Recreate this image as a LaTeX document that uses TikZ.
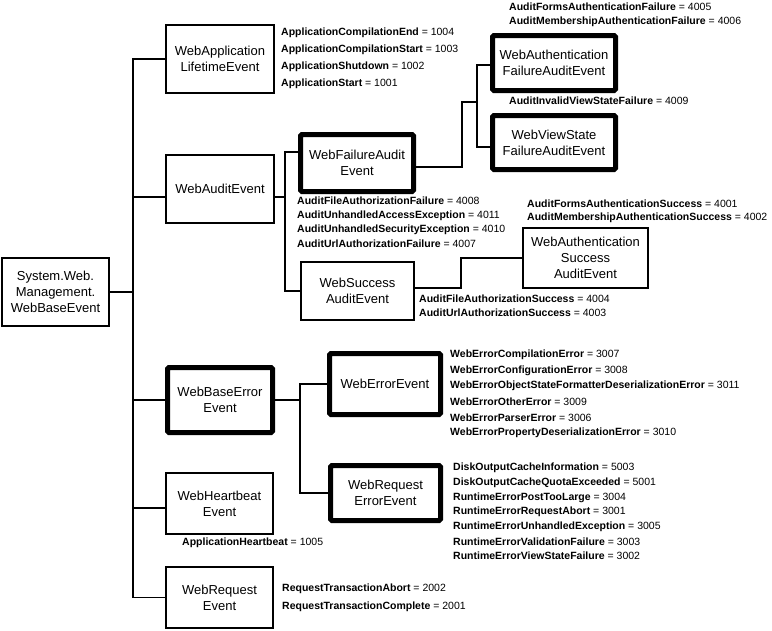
\documentclass[tikz,border=0pt]{standalone}
\usepackage{fontspec}
\setmainfont{Liberation Sans}
\usepackage{tikz}

\newcommand{\evcode}[2]{\textbf{#1} = #2}

\begin{document}
\begin{tikzpicture}[x=1pt,y=-1pt,
  box/.style={draw,line width=1.3pt,inner sep=0pt,align=center,font=\fontsize{13}{16}\selectfont},
  thickbox/.style={box,line width=5pt,rounded corners=1.5pt},
  wire/.style={line width=1.5pt},
  code/.style={anchor=west,inner sep=0pt,font=\fontsize{10.5}{12}\selectfont}]

  % Marco de la figura
  \useasboundingbox (0,0) rectangle (772,630);

  % Raíz y eventos de primer nivel
  \node[box,minimum width=107pt,minimum height=68pt] (root) at (55.5,292) {System.Web.\\Management.\\WebBaseEvent};
  \node[box,minimum width=108pt,minimum height=68pt] (lifetime) at (220,59) {WebApplication\\LifetimeEvent};
  \node[box,minimum width=108pt,minimum height=68pt] (audit) at (220,189) {WebAuditEvent};
  \node[thickbox,minimum width=105pt,minimum height=65pt] (baseerror) at (220,400) {WebBaseError\\Event};
  \node[box,minimum width=107pt,minimum height=61pt] (heartbeat) at (219.5,503.5) {WebHeartbeat\\Event};
  \node[box,minimum width=107pt,minimum height=61pt] (request) at (219.5,597.5) {WebRequest\\Event};

  % Eventos de auditoría
  \node[thickbox,minimum width=113pt,minimum height=57pt] (failure) at (357,163) {WebFailureAudit\\Event};
  \node[box,minimum width=113pt,minimum height=58pt] (success) at (357.5,291) {WebSuccess\\AuditEvent};
  \node[thickbox,minimum width=123pt,minimum height=55pt] (authfail) at (554,63) {WebAuthentication\\FailureAuditEvent};
  \node[thickbox,minimum width=123pt,minimum height=54pt] (viewstate) at (554,142.5) {WebViewState\\FailureAuditEvent};
  \node[box,minimum width=125pt,minimum height=60pt] (authsucc) at (585.5,258) {WebAuthentication\\Success\\AuditEvent};

  % Eventos de error
  \node[thickbox,minimum width=111pt,minimum height=61pt] (errorev) at (385,384) {WebErrorEvent};
  \node[thickbox,minimum width=110pt,minimum height=55pt] (reqerror) at (385.5,493) {WebRequest\\ErrorEvent};

  % Puntos de unión de las líneas
  \coordinate (trunk) at (133,0);
  \coordinate (auditbus) at (285,0);
  \coordinate (failbus) at (462,102);
  \coordinate (failjoin) at (477,102);
  \coordinate (succbus) at (461,258);
  \coordinate (errbus) at (300,400);

  % Tronco principal
  \draw[wire] (lifetime.west) -- (lifetime.west -| trunk) |- (request.west);
  \draw[wire] (root.east) -- (root.east -| trunk);
  \draw[wire] ([yshift=-8pt]audit.west) -- ([yshift=-8pt]audit.west -| trunk);
  \draw[wire] (baseerror.west) -- (baseerror.west -| trunk);
  \draw[wire] ([yshift=-4.5pt]heartbeat.west) -- ([yshift=-4.5pt]heartbeat.west -| trunk);

  % Rama de auditoría
  \draw[wire] ([yshift=-8pt]audit.east) -- ([yshift=-8pt]audit.east -| auditbus);
  \draw[wire] ([yshift=11pt]failure.west) -- ([yshift=11pt]failure.west -| auditbus) |- (success.west);
  \draw[wire] ([yshift=-4pt]failure.east) -| (failbus) -- (failjoin);
  \draw[wire] ([yshift=-2pt]authfail.west) -| (failjoin) |- ([yshift=-4.5pt]viewstate.west);
  \draw[wire] ([yshift=3pt]success.east) -| (succbus) -- (authsucc.west);

  % Rama de errores
  \draw[wire] (baseerror.east) -- (errbus);
  \draw[wire] (errorev.west) -| (errbus) |- (reqerror.west);

  % Códigos de evento
  \foreach \nm/\val [count=\i] in {ApplicationCompilationEnd/1004,ApplicationCompilationStart/1003,ApplicationShutdown/1002,ApplicationStart/1001}
    \node[code] (lifecode\i) at (281,{32.5+17*(\i-1)}) {\evcode{\nm}{\val}};
  \foreach \nm/\val [count=\i] in {AuditFormsAuthenticationFailure/4005,AuditMembershipAuthenticationFailure/4006}
    \node[code] (authfailcode\i) at (509,{7+15*(\i-1)}) {\evcode{\nm}{\val}};
  \node[code] (viewstatecode) at (509,101) {\evcode{AuditInvalidViewStateFailure}{4009}};
  \foreach \nm/\val [count=\i] in {AuditFileAuthorizationFailure/4008,AuditUnhandledAccessException/4011,AuditUnhandledSecurityException/4010,AuditUrlAuthorizationFailure/4007}
    \node[code] (failcode\i) at (297,{201+14.3*(\i-1)}) {\evcode{\nm}{\val}};
  \foreach \nm/\val [count=\i] in {AuditFormsAuthenticationSuccess/4001,AuditMembershipAuthenticationSuccess/4002}
    \node[code] (authsucccode\i) at (527,{204+14*(\i-1)}) {\evcode{\nm}{\val}};
  \foreach \nm/\val [count=\i] in {AuditFileAuthorizationSuccess/4004,AuditUrlAuthorizationSuccess/4003}
    \node[code] (succcode\i) at (419,{298.5+14*(\i-1)}) {\evcode{\nm}{\val}};
  \foreach \nm/\val [count=\i] in {WebErrorCompilationError/3007,WebErrorConfigurationError/3008,WebErrorObjectStateFormatterDeserializationError/3011,WebErrorOtherError/3009,WebErrorParserError/3006,WebErrorPropertyDeserializationError/3010}
    \node[code] (errcode\i) at (450,{355+15.6*(\i-1)}) {\evcode{\nm}{\val}};
  \foreach \nm/\val [count=\i] in {DiskOutputCacheInformation/5003,DiskOutputCacheQuotaExceeded/5001,RuntimeErrorPostTooLarge/3004,RuntimeErrorRequestAbort/3001,RuntimeErrorUnhandledException/3005,RuntimeErrorValidationFailure/3003,RuntimeErrorViewStateFailure/3002}
    \node[code] (reqerrcode\i) at (453,{468+14.7*(\i-1)}) {\evcode{\nm}{\val}};
  \node[code] (heartcode) at (182,543) {\evcode{ApplicationHeartbeat}{1005}};
  \foreach \nm/\val [count=\i] in {RequestTransactionAbort/2002,RequestTransactionComplete/2001}
    \node[code] (reqcode\i) at (282,{589+18*(\i-1)}) {\evcode{\nm}{\val}};

\end{tikzpicture}
\end{document}
